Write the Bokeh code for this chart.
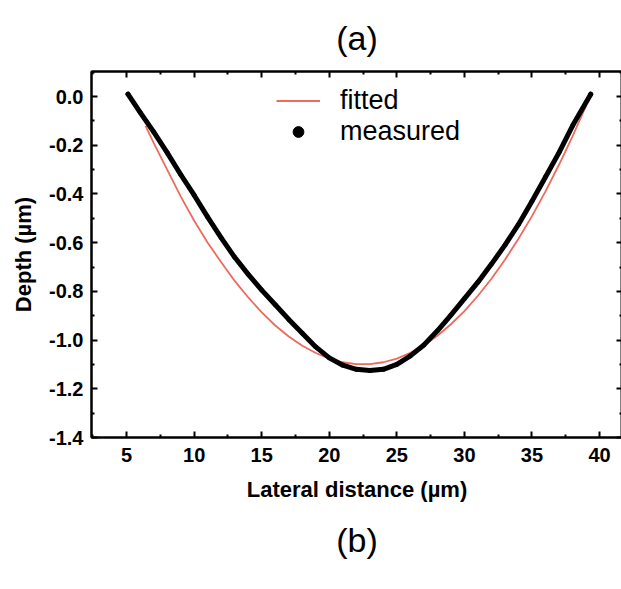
from bokeh.plotting import figure
from bokeh.models import (ColumnDataSource, Legend, LegendItem, LinearAxis, Title,
                          FixedTicker, NumeralTickFormatter, Range1d)
from bokeh.embed import file_html
from bokeh.resources import INLINE

# fitted curve
fit_x = [6.4, 7, 8, 9, 10, 11, 12, 13, 14, 15, 16, 17, 18, 19, 20, 21, 22, 23, 24,
         25, 26, 27, 28, 29, 30, 31, 32, 33, 34, 35, 36, 37, 38, 39.0]
fit_y = [-0.12, -0.19, -0.30, -0.41, -0.51, -0.60, -0.68, -0.757, -0.825, -0.886, -0.94,
         -0.985, -1.023, -1.053, -1.076, -1.091, -1.099, -1.099, -1.091, -1.076, -1.052,
         -1.021, -0.982, -0.935, -0.881, -0.818, -0.748, -0.67, -0.584, -0.491, -0.389,
         -0.28, -0.163, -0.038]

# measured profile
meas_x = [5.1, 6, 7, 8, 9, 10, 11, 12, 13, 14, 15, 16, 17, 18, 19, 20, 21, 22, 23, 24,
          25, 26, 27, 28, 29, 30, 31, 32, 33, 34, 35, 36, 37, 38, 39.35]
meas_y = [0.01, -0.065, -0.145, -0.23, -0.32, -0.405, -0.495, -0.58, -0.66, -0.73, -0.795,
          -0.855, -0.915, -0.972, -1.028, -1.073, -1.103, -1.12, -1.125, -1.12, -1.10,
          -1.065, -1.02, -0.962, -0.897, -0.83, -0.762, -0.688, -0.61, -0.525, -0.43,
          -0.33, -0.23, -0.12, 0.01]

x_ticks = [5, 10, 15, 20, 25, 30, 35, 40]
x_minor = [2.5, 7.5, 12.5, 17.5, 22.5, 27.5, 32.5, 37.5]
y_ticks = [0.0, -0.2, -0.4, -0.6, -0.8, -1.0, -1.2, -1.4]
y_minor = [0.1, -0.1, -0.3, -0.5, -0.7, -0.9, -1.1, -1.3]

FONT = "Liberation Sans"

p = figure(frame_width=531, frame_height=366, output_backend="svg", toolbar_location=None,
           x_range=Range1d(2.4, 41.7), y_range=Range1d(-1.4, 0.103),
           min_border_left=91, min_border_right=0, min_border_top=71, min_border_bottom=140,
           x_axis_label="Lateral distance (µm)", y_axis_label="Depth (µm)")
p.grid.visible = False
p.background_fill_color = "white"
p.border_fill_color = "white"
p.outline_line_color = "black"
p.outline_line_width = 2

fit_src = ColumnDataSource(dict(x=fit_x, y=fit_y))
meas_src = ColumnDataSource(dict(x=meas_x, y=meas_y))

r_fit = p.line("x", "y", source=fit_src, line_color="#ef6a5e", line_width=1.8)
p.line("x", "y", source=meas_src, line_color="black", line_width=5,
       line_join="round", line_cap="round")
r_meas = p.scatter("x", "y", source=meas_src, size=4, color="black")

for ax in (p.xaxis[0], p.yaxis[0]):
    ax.axis_line_width = 2
    ax.major_tick_in = 6
    ax.major_tick_out = 0
    ax.minor_tick_in = 3
    ax.minor_tick_out = 0
    ax.major_tick_line_width = 2
    ax.minor_tick_line_width = 2
    ax.major_label_text_font = FONT
    ax.major_label_text_font_style = "bold"
    ax.major_label_text_font_size = "20px"
    ax.major_label_text_color = "black"
    ax.axis_label_text_font = FONT
    ax.axis_label_text_font_style = "bold"
    ax.axis_label_text_font_size = "22px"
    ax.axis_label_text_color = "black"

p.xaxis[0].ticker = FixedTicker(ticks=x_ticks, minor_ticks=x_minor)
p.yaxis[0].ticker = FixedTicker(ticks=y_ticks, minor_ticks=y_minor)
p.yaxis[0].formatter = NumeralTickFormatter(format="0.0")
p.xaxis[0].major_label_standoff = 10
p.xaxis[0].axis_label_standoff = 12
p.yaxis[0].major_label_standoff = 8
p.yaxis[0].axis_label_standoff = 10

top = LinearAxis(ticker=FixedTicker(ticks=x_ticks, minor_ticks=x_minor),
                 major_label_overrides={t: "" for t in x_ticks}, axis_line_width=2,
                 major_tick_in=6, major_tick_out=0, minor_tick_in=3, minor_tick_out=0,
                 major_tick_line_width=2, minor_tick_line_width=2)
p.add_layout(top, "above")

right = LinearAxis(ticker=FixedTicker(ticks=y_ticks, minor_ticks=y_minor),
                   major_label_overrides={t: "" for t in y_ticks}, axis_line_width=2,
                   major_label_standoff=0,
                   major_tick_in=6, major_tick_out=0, minor_tick_in=3, minor_tick_out=0,
                   major_tick_line_width=2, minor_tick_line_width=2)
p.add_layout(right, "right")

p.title = Title(text="(a)", align="center", text_font=FONT, text_font_size="34px",
                text_font_style="normal", text_color="black", offset=0, standoff=29)
p.add_layout(Title(text="(b)", align="center", text_font=FONT, text_font_size="34px",
                   text_font_style="normal", text_color="black", standoff=28), "below")

legend = Legend(items=[LegendItem(label="fitted", renderers=[r_fit]),
                       LegendItem(label="measured", renderers=[r_meas])],
                location=(185, 290), label_text_font=FONT, label_text_font_size="27px",
                label_text_color="black", label_height=27,
                glyph_width=44, glyph_height=27, spacing=0, label_standoff=20,
                border_line_color=None, background_fill_alpha=0)
p.add_layout(legend, "center")

open("out.html", "w").write(file_html(p, INLINE))
